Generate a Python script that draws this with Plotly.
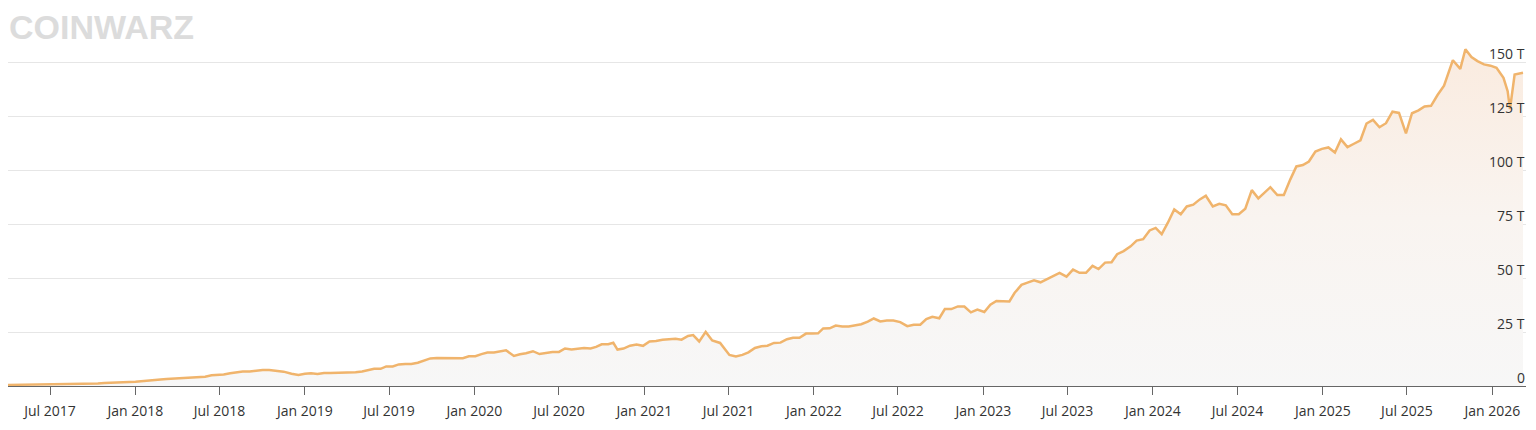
import plotly.graph_objects as go

# ---- data (Bitcoin network difficulty, in T) ----
dates = [
    "2017-04-01", "2017-04-13", "2017-04-27", "2017-05-11", "2017-05-24", "2017-06-07", "2017-06-21",
    "2017-07-05", "2017-07-19", "2017-08-04", "2017-08-17", "2017-08-29", "2017-09-12", "2017-09-28",
    "2017-10-12", "2017-10-26", "2017-11-09", "2017-11-23", "2017-12-05", "2017-12-18",
    "2018-01-01", "2018-01-13", "2018-01-27", "2018-02-09", "2018-02-24", "2018-03-09", "2018-03-22",
    "2018-04-05", "2018-04-19", "2018-05-03", "2018-05-17", "2018-05-31", "2018-06-14", "2018-06-27",
    "2018-07-10", "2018-07-24", "2018-08-07", "2018-08-20", "2018-09-04", "2018-09-18", "2018-10-02",
    "2018-10-16", "2018-10-30", "2018-11-16", "2018-12-03", "2018-12-18",
    "2019-01-01", "2019-01-14", "2019-01-28", "2019-02-11", "2019-02-24", "2019-03-10", "2019-03-23",
    "2019-04-05", "2019-04-20", "2019-05-04", "2019-05-17", "2019-05-30", "2019-06-13", "2019-06-25",
    "2019-07-09", "2019-07-22", "2019-08-05", "2019-08-18", "2019-09-01", "2019-09-14", "2019-09-28",
    "2019-10-12", "2019-10-26", "2019-11-09", "2019-11-23", "2019-12-07", "2019-12-20",
    "2020-01-03", "2020-01-16", "2020-01-29", "2020-02-12", "2020-02-25", "2020-03-09", "2020-03-26",
    "2020-04-08", "2020-04-21", "2020-05-06", "2020-05-20", "2020-06-04", "2020-06-17", "2020-07-01",
    "2020-07-14", "2020-07-28", "2020-08-10", "2020-08-24", "2020-09-07", "2020-09-19", "2020-10-01",
    "2020-10-15", "2020-10-26", "2020-11-04", "2020-11-17", "2020-12-01", "2020-12-15", "2020-12-29",
    "2021-01-12", "2021-01-26", "2021-02-09", "2021-02-24", "2021-03-09", "2021-03-22", "2021-04-05",
    "2021-04-16", "2021-04-29", "2021-05-13", "2021-05-27", "2021-06-13", "2021-07-03", "2021-07-17",
    "2021-07-31", "2021-08-13", "2021-08-27", "2021-09-10", "2021-09-23", "2021-10-07", "2021-10-21",
    "2021-11-04", "2021-11-17", "2021-12-01", "2021-12-15", "2021-12-29",
    "2022-01-10", "2022-01-21", "2022-02-04", "2022-02-17", "2022-03-03", "2022-03-17", "2022-03-31",
    "2022-04-13", "2022-04-27", "2022-05-10", "2022-05-24", "2022-06-07", "2022-06-21", "2022-07-06",
    "2022-07-21", "2022-08-04", "2022-08-18", "2022-08-31", "2022-09-13", "2022-09-28", "2022-10-10",
    "2022-10-24", "2022-11-07", "2022-11-21", "2022-12-05", "2022-12-19",
    "2023-01-03", "2023-01-16", "2023-01-29", "2023-02-12", "2023-02-26", "2023-03-09", "2023-03-24",
    "2023-04-06", "2023-04-20", "2023-05-04", "2023-05-18", "2023-06-01", "2023-06-14", "2023-06-29",
    "2023-07-13", "2023-07-27", "2023-08-10", "2023-08-24", "2023-09-06", "2023-09-20", "2023-10-04",
    "2023-10-16", "2023-10-30", "2023-11-14", "2023-11-27", "2023-12-11", "2023-12-25",
    "2024-01-07", "2024-01-20", "2024-02-02", "2024-02-16", "2024-03-01", "2024-03-14", "2024-03-28",
    "2024-04-11", "2024-04-24", "2024-05-09", "2024-05-23", "2024-06-06", "2024-06-20", "2024-07-04",
    "2024-07-18", "2024-08-01", "2024-08-15", "2024-08-29", "2024-09-10", "2024-09-25", "2024-10-09",
    "2024-10-23", "2024-11-05", "2024-11-19", "2024-12-02", "2024-12-16", "2024-12-30",
    "2025-01-13", "2025-01-27", "2025-02-09", "2025-02-23", "2025-03-09", "2025-03-23", "2025-04-05",
    "2025-04-19", "2025-05-03", "2025-05-17", "2025-05-31", "2025-06-14", "2025-06-29", "2025-07-12",
    "2025-07-26", "2025-08-08", "2025-08-22", "2025-09-05", "2025-09-19", "2025-10-01", "2025-10-08",
    "2025-10-24", "2025-11-04", "2025-11-17", "2025-11-30", "2025-12-14", "2025-12-28",
    "2026-01-10", "2026-01-25", "2026-02-03", "2026-02-08", "2026-02-18", "2026-03-01", "2026-03-08",
]

difficulty_t = [
    0.50, 0.52, 0.56, 0.56, 0.60, 0.71, 0.71,
    0.71, 0.71, 0.86, 0.89, 0.92, 0.92, 1.10,
    1.12, 1.35, 1.45, 1.35, 1.59, 1.87,
    1.93, 2.23, 2.60, 2.87, 3.01, 3.29, 3.46,
    3.51, 3.84, 4.14, 4.14, 4.30, 4.94, 5.08,
    5.36, 5.95, 6.39, 6.73, 6.73, 7.15, 7.45,
    7.45, 7.18, 6.65, 5.65, 5.11,
    5.62, 5.88, 5.61, 6.06, 6.07, 6.07, 6.06,
    6.38, 6.35, 6.70, 7.46, 7.93, 7.93, 9.06,
    9.01, 9.99, 10.18, 10.18, 10.77, 11.89, 12.76,
    13.01, 13.01, 12.97, 12.72, 12.87, 13.80,
    13.80, 14.78, 15.47, 15.55, 15.96, 16.55, 13.91,
    14.72, 15.14, 16.10, 14.80, 15.50, 15.78, 15.78,
    17.35, 16.95, 17.35, 17.60, 17.35, 18.09, 19.31,
    19.31, 19.99, 16.85, 17.35, 18.67, 19.16, 18.60,
    20.61, 20.82, 21.45, 21.72, 21.87, 21.45, 23.14,
    23.58, 20.61, 25.05, 21.05, 19.93, 14.36, 13.67,
    14.40, 15.56, 17.62, 18.42, 18.68, 19.93, 20.08,
    21.66, 22.34, 22.34, 24.27, 24.27,
    24.37, 26.64, 26.69, 27.97, 27.55, 27.55, 28.23,
    28.59, 29.79, 31.25, 29.90, 30.28, 30.28, 29.57,
    27.69, 28.35, 28.35, 30.98, 32.05, 31.36, 35.61,
    35.61, 36.84, 36.76, 34.09, 35.36,
    34.24, 37.59, 39.35, 39.16, 39.16, 43.05, 46.84,
    47.89, 48.90, 48.01, 49.55, 51.23, 52.35, 50.65,
    53.91, 52.39, 52.39, 55.62, 54.15, 57.12, 57.32,
    61.03, 62.46, 64.68, 67.31, 67.96, 72.01,
    73.20, 70.34, 75.50, 81.73, 79.50, 83.13, 83.95,
    86.39, 88.10, 83.15, 84.38, 83.68, 79.50, 79.50,
    82.05, 90.67, 86.87, 89.47, 92.05, 88.40, 88.40,
    95.67, 101.65, 102.29, 103.92, 108.52, 109.78,
    110.45, 108.11, 114.17, 110.57, 112.15, 113.76, 121.51,
    123.23, 119.81, 121.66, 126.98, 126.41, 116.96, 126.27,
    127.62, 129.44, 129.70, 134.70, 139.00, 146.00, 150.84,
    146.80, 155.90, 152.30, 150.40, 148.90, 148.30,
    147.30, 142.70, 136.50, 128.20, 144.20, 144.60, 145.00,
]

x_tick_dates = [
    "2017-07-01", "2018-01-01", "2018-07-01", "2019-01-01", "2019-07-01", "2020-01-01",
    "2020-07-01", "2021-01-01", "2021-07-01", "2022-01-01", "2022-07-01", "2023-01-01",
    "2023-07-01", "2024-01-01", "2024-07-01", "2025-01-01", "2025-07-01", "2026-01-01",
]
x_tick_labels = [
    "Jul 2017", "Jan 2018", "Jul 2018", "Jan 2019", "Jul 2019", "Jan 2020",
    "Jul 2020", "Jan 2021", "Jul 2021", "Jan 2022", "Jul 2022", "Jan 2023",
    "Jul 2023", "Jan 2024", "Jul 2024", "Jan 2025", "Jul 2025", "Jan 2026",
]
y_tick_values = [0, 25, 50, 75, 100, 125, 150, 175]
y_tick_labels = ["0", "25 T", "50 T", "75 T", "100 T", "125 T", "150 T", ""]

LINE_COLOR = "#f0b46c"
TEXT_COLOR = "#333333"
FONT = "Open Sans, Segoe UI, Noto Sans, sans-serif"

fig = go.Figure()
fig.add_trace(go.Scatter(
    x=dates,
    y=difficulty_t,
    mode="lines",
    line=dict(color=LINE_COLOR, width=2.5),
    fill="tozeroy",
    fillgradient=dict(
        type="vertical",
        colorscale=[[0, "#f7f7f7"], [0.5, "#f9f4f0"], [1, "#faebdf"]],
    ),
    hoverinfo="skip",
    showlegend=False,
))

# y-axis labels: right-aligned just above each gridline, inside the plot
y_label_annotations = [
    dict(
        text=lbl,
        xref="paper", yref="y",
        x=1, y=val,
        xanchor="right", yanchor="bottom",
        xshift=1, yshift=-3,
        showarrow=False,
        font=dict(family=FONT, size=14, color=TEXT_COLOR),
    )
    for val, lbl in zip(y_tick_values, y_tick_labels) if lbl
]

logo = dict(
    text="<b>COINWARZ</b>",
    xref="paper", yref="paper",
    x=0, y=1,
    xanchor="left", yanchor="middle",
    xshift=-1, yshift=-19,
    showarrow=False,
    font=dict(family="Liberation Sans, Arial, sans-serif", size=34, color="#dcdcdc"),
)

# the page body adds an 8 px offset, so the figure is sized to fit the window
fig.update_layout(
    width=1520,
    height=414,
    margin=dict(l=0, r=2, t=0, b=36, autoexpand=False),
    paper_bgcolor="white",
    plot_bgcolor="white",
    font=dict(family=FONT, size=14, color=TEXT_COLOR),
    showlegend=False,
    xaxis=dict(
        type="date",
        range=["2017-04-01 12:00", "2026-03-14 12:00"],
        tickmode="array",
        tickvals=x_tick_dates,
        ticktext=x_tick_labels,
        ticks="outside",
        ticklen=8,
        tickwidth=1,
        tickcolor="#666666",
        ticklabelstandoff=4,
        showline=True,
        linecolor="#666666",
        linewidth=1,
        showgrid=False,
        zeroline=False,
        automargin=False,
        tickfont=dict(family=FONT, size=14, color=TEXT_COLOR),
    ),
    yaxis=dict(
        range=[0, 175],
        side="right",
        tickmode="array",
        tickvals=y_tick_values,
        showticklabels=False,
        ticks="",
        showgrid=True,
        gridcolor="#e6e6e6",
        gridwidth=1,
        showline=False,
        zeroline=False,
        automargin=False,
    ),
    annotations=[logo] + y_label_annotations,
)

fig.write_html("out.html")
